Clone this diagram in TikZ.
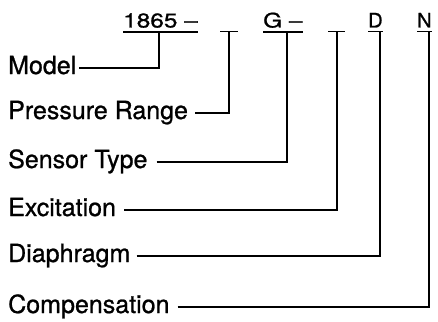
\documentclass[tikz,border=0pt]{standalone}
\usepackage{fontspec}
\setmainfont{TeX Gyre Heros}[FakeBold=0.9]
\begin{document}
\begin{tikzpicture}[x=1pt,y=-1pt,
  lbl/.style={anchor=base west, inner sep=0pt, font=\fontsize{25}{25}\selectfont},
  code/.style={anchor=base west, inner xsep=0pt, inner ysep=4pt, font=\fontsize{20}{20}\selectfont},
  conn/.style={line width=1.6pt},
  uline/.style={line width=1.4pt}]
\useasboundingbox (0,0) rectangle (438,321);
% code row
\node[code] (c1) at (123,27.5) {\scalebox{1.22}[1]{1865 –}};
\node[code] (c2) at (220,27.5) {\rule{0pt}{13pt}\hspace*{18pt}};
\node[code] (c3) at (263,27.5) {\scalebox{1.22}[1]{G –}};
\node[code] (c4) at (328,27.5) {\rule{0pt}{13pt}\hspace*{17pt}};
\node[code] (c5) at (368,27.5) {D};
\node[code] (c6) at (417,27.5) {N};
\foreach \n in {c1,c2,c3,c4,c5,c6} \draw[uline] (\n.south west) -- (\n.south east);
% labels
\node[lbl] (l1) at (8,74) {Model};
\node[lbl] (l2) at (8,119) {Pressure Range};
\node[lbl] (l3) at (8,168) {Sensor Type};
\node[lbl] (l4) at (8,216) {Excitation};
\node[lbl] (l5) at (8,262) {Diaphragm};
\node[lbl] (l6) at (8,313) {Compensation};
% connectors
\draw[conn] ([xshift=3pt,yshift=6pt]l1.base east) -| ([xshift=36pt]c1.south west);
\draw[conn] ([xshift=7pt,yshift=6pt]l2.base east) -| ([xshift=9pt]c2.south west);
\draw[conn] ([xshift=9pt,yshift=6pt]l3.base east) -| ([xshift=24pt]c3.south west);
\draw[conn] ([xshift=8pt,yshift=6pt]l4.base east) -| ([xshift=9pt]c4.south west);
\draw[conn] ([xshift=6pt,yshift=6pt]l5.base east) -| ([xshift=12pt]c5.south west);
\draw[conn] ([xshift=8pt,yshift=6pt]l6.base east) -| ([xshift=12pt]c6.south west);
\end{tikzpicture}
\end{document}
